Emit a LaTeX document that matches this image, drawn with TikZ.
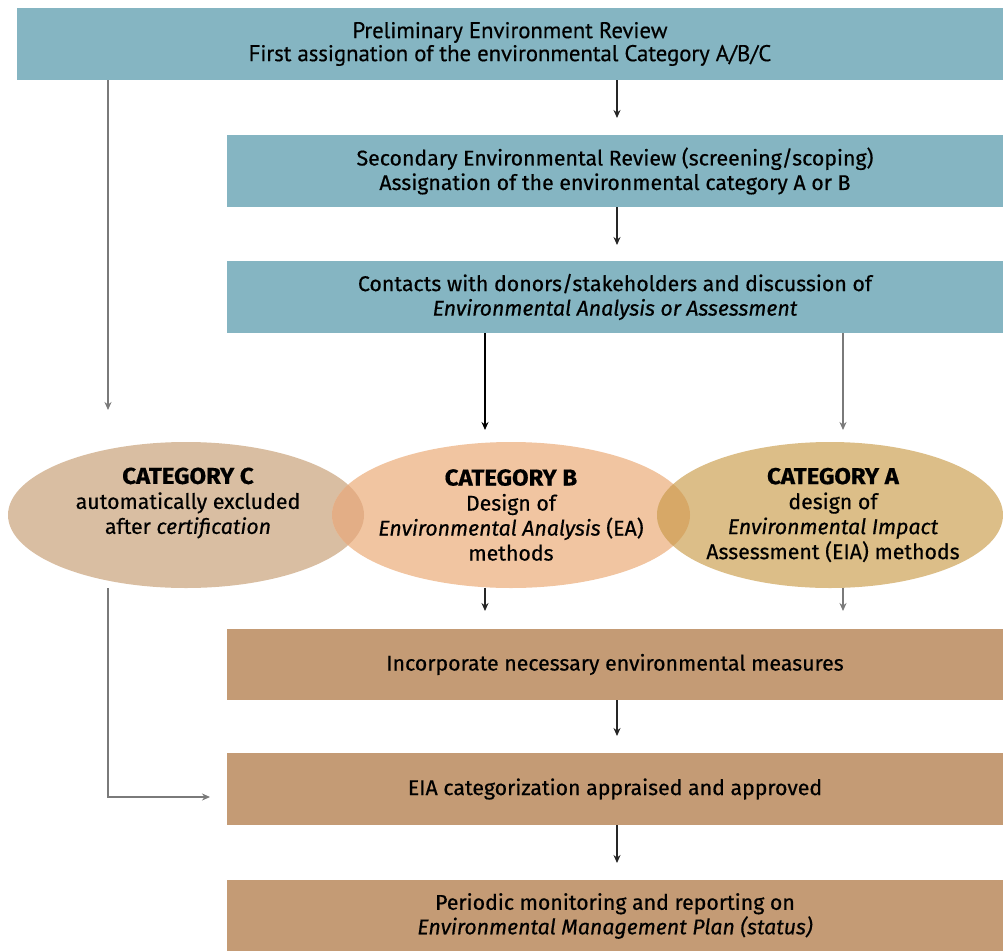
\documentclass[tikz,border=0pt]{standalone}
\usepackage{fontspec}
\setmainfont{Fira Sans}[FakeBold=0.6]
\newfontfamily\condfont{PT Sans}
\usetikzlibrary{arrows.meta,shapes.geometric}
\definecolor{teal}{HTML}{85B5C2}
\definecolor{tan}{HTML}{C49B75}
\definecolor{ecol}{HTML}{D9BEA2}
\definecolor{ebcol}{HTML}{F1C5A1}
\definecolor{eacol}{HTML}{DCBE88}
\definecolor{lenscb}{HTML}{E3AE86}
\definecolor{lensba}{HTML}{D7A867}
\definecolor{lgray}{HTML}{7A7A7A}
\newcommand{\semib}{\addfontfeature{FakeBold=0.5}}
\newcommand{\hdr}[1]{\scalebox{1.04}[1]{\fontsize{23}{25}\selectfont\bfseries #1}}
\tikzset{
  tbox/.style={fill=teal,draw=none,inner sep=0pt,align=center,font=\fontsize{21.3}{24.5}\selectfont\semib},
  bbox/.style={fill=tan,draw=none,inner sep=0pt,align=center,font=\fontsize{21.3}{24.5}\selectfont\semib},
  etext/.style={align=center,font=\fontsize{21.3}{25}\selectfont\semib,inner sep=0pt},
  arr/.style={-{Stealth[length=8pt,width=7pt]},line width=1.5pt,draw=black!85},
  garr/.style={-{Stealth[length=8pt,width=7pt]},line width=1.8pt,draw=lgray},
}
\begin{document}
\begin{tikzpicture}[x=1pt,y=-1pt]
\useasboundingbox (0,0) rectangle (1003,950);
% boxes
\node[tbox,minimum width=986pt,minimum height=72pt,font=\condfont\fontsize{22.7}{23}\selectfont\semib] (pre) at (510,44)
  {Preliminary Environment Review\\First assignation of the environmental Category A/B/C};
\node[tbox,minimum width=776pt,minimum height=72pt] (sec) at (615,171)
  {Secondary Environmental Review (screening/scoping)\\Assignation of the environmental category A or B};
\node[tbox,minimum width=776pt,minimum height=72pt] (con) at (615,297)
  {Contacts with donors/stakeholders and discussion of\\\textit{Environmental Analysis or Assessment}};
\node[bbox,minimum width=776pt,minimum height=71pt] (inc) at (615,664.5)
  {Incorporate necessary environmental measures};
\node[bbox,minimum width=776pt,minimum height=72pt] (eia) at (615,789)
  {EIA categorization appraised and approved};
\node[bbox,minimum width=776pt,minimum height=72pt] (per) at (615,916)
  {Periodic monitoring and reporting on\\\textit{Environmental Management Plan (status)}};
% ellipses
\node[ellipse,fill=ecol,minimum width=356pt,minimum height=146pt,inner sep=0pt] (ec) at (186,515) {};
\node[ellipse,fill=ebcol,minimum width=358pt,minimum height=146pt,inner sep=0pt] (eb) at (511,515) {};
\node[ellipse,fill=eacol,minimum width=346pt,minimum height=146pt,inner sep=0pt] (ea) at (830,515) {};
\begin{scope}
  \clip (186,515) ellipse [x radius=178pt,y radius=73pt];
  \fill[lenscb] (511,515) ellipse [x radius=179pt,y radius=73pt];
\end{scope}
\begin{scope}
  \clip (511,515) ellipse [x radius=179pt,y radius=73pt];
  \fill[lensba] (830,515) ellipse [x radius=173pt,y radius=73pt];
\end{scope}
\node[etext] (tc) at (188,503) {\hdr{CATEGORY C}\\automatically excluded\\after \textit{certification}};
\node[etext] (tb) at (511,515) {\hdr{CATEGORY B}\\Design of\\\textit{Environmental Analysis} (EA)\\methods};
\node[etext] (ta) at (833,515) {\hdr{CATEGORY A}\\design of\\\textit{Environmental Impact}\\Assessment (EIA) methods};
% coordinates
\coordinate (l1) at (108,410);
\coordinate (l2) at (108,797);
\coordinate (p1) at (617,118);
\coordinate (p2) at (617,245);
\coordinate (qb) at (485,430);
\coordinate (qa) at (843,430);
\coordinate (rb) at (485,611);
\coordinate (ra) at (843,611);
\coordinate (s1) at (617,736);
\coordinate (s2) at (617,863);
\coordinate (t5) at (210,797);
% connectors
\draw[garr] (pre.south -| l1) -- (l1);
\draw[arr] (pre.south -| p1) -- (p1);
\draw[arr] (sec.south -| p2) -- (p2);
\draw[arr,line width=2.4pt,draw=black] (con.south -| qb) -- (qb);
\draw[garr] (con.south -| qa) -- (qa);
\draw[arr,line width=2.2pt] (eb.south -| rb) -- (rb);
\draw[garr] (ea.south -| ra) -- (ra);
\draw[arr] (inc.south -| s1) -- (s1);
\draw[arr] (eia.south -| s2) -- (s2);
\draw[garr] (ec.south -| l2) -- (l2) -- (t5);
\end{tikzpicture}
\end{document}
